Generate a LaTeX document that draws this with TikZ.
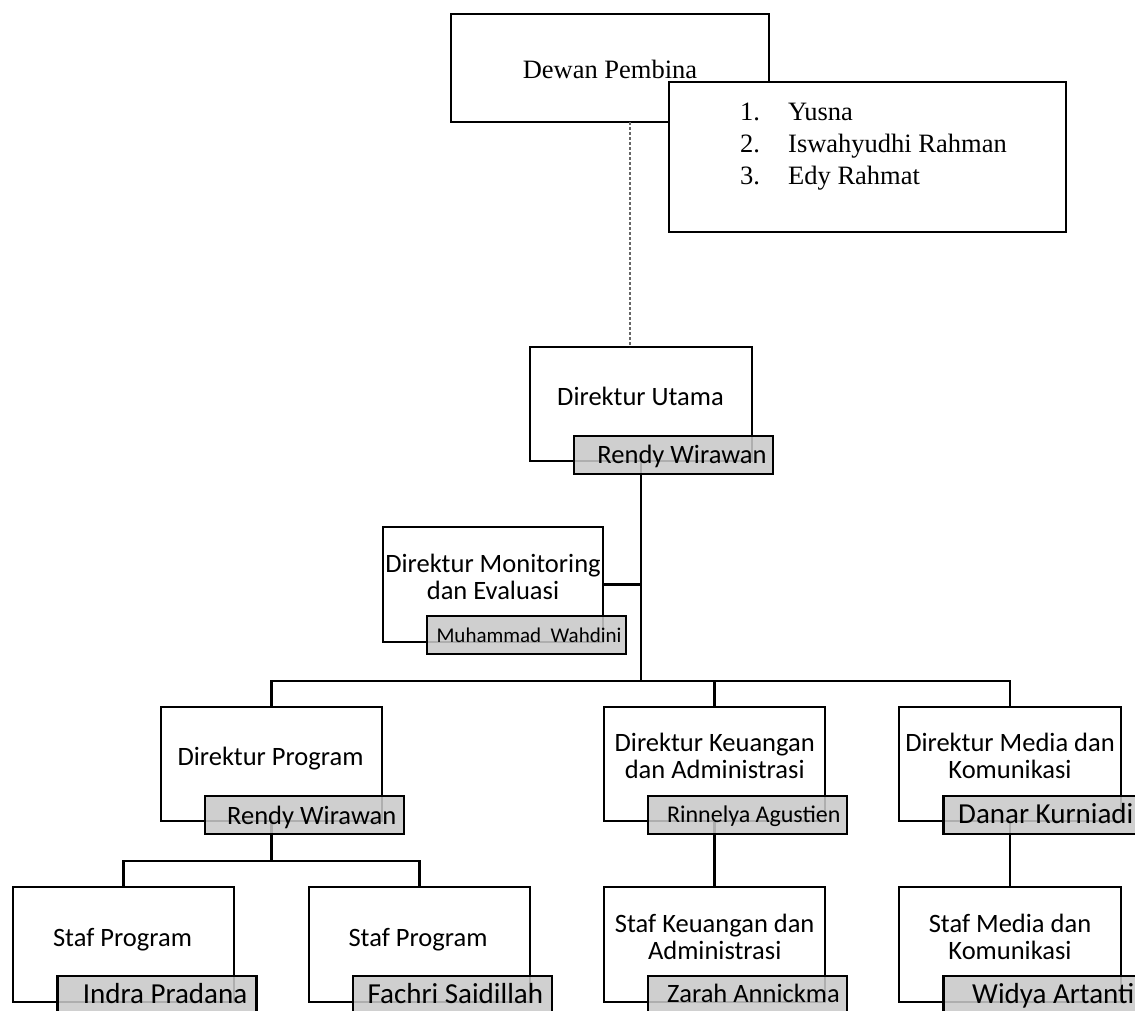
\documentclass[tikz,border=0pt]{standalone}
\usepackage{fontspec}
\setmainfont{Liberation Serif}
\newfontfamily\calfont{Carlito}
\begin{document}
\begin{tikzpicture}[x=1pt,y=-1pt,
  wbox/.style={draw=black, line width=2.6pt, fill=white, rectangle, inner sep=0pt, outer sep=0pt, anchor=north west},
  gbox/.style={draw=black, line width=2.6pt, fill=black!21, fill opacity=0.87, draw opacity=1, rectangle, inner sep=0pt, outer sep=0pt, anchor=north west, minimum width=199pt, minimum height=38pt},
  conn/.style={draw=black, line width=2.6pt},
  dash line/.style={draw=black!60, line width=1.4pt, dash pattern=on 3pt off 2pt},
  serif/.style={font=\fontsize{26.5}{30}\selectfont, inner sep=0pt, anchor=base},
  lbl/.style={font=\calfont\fontsize{26.5}{30}\selectfont, inner sep=0pt, anchor=base},
  lblS/.style={font=\calfont\fontsize{21}{24}\selectfont, inner sep=0pt, anchor=base},
  lblM/.style={font=\calfont\fontsize{24}{28}\selectfont, inner sep=0pt, anchor=base},
  lblL/.style={font=\calfont\fontsize{29}{33}\selectfont, inner sep=0pt, anchor=base}]
\useasboundingbox (0,0) rectangle (1135,1010);
\clip (0,0) rectangle (1135,1010);

% Dewan Pembina
\node[wbox, minimum width=318pt, minimum height=108pt] (dp) at (451,14) {};
\node[serif] (dpT) at (610,78) {Dewan Pembina};
\coordinate (dl) at (630,0);
\node[wbox, minimum width=222pt, minimum height=114pt] (du) at (530,347) {};
\draw[dash line] (dp.south -| dl) -- (du.north -| dl);
\node[wbox, minimum width=397pt, minimum height=150pt] (lst) at (669,82) {};
\node[serif, anchor=base west] (l1n) at (740,120) {1.};
\node[serif, anchor=base west] (l1) at (788,120) {Yusna};
\node[serif, anchor=base west] (l2n) at (740,152) {2.};
\node[serif, anchor=base west] (l2) at (788,152) {Iswahyudhi Rahman};
\node[serif, anchor=base west] (l3n) at (740,184) {3.};
\node[serif, anchor=base west] (l3) at (788,184) {Edy Rahmat};

% white boxes
\node[wbox, minimum width=220pt, minimum height=115pt] (mon) at (383,527) {};
\node[wbox, minimum width=221pt, minimum height=114pt] (prog) at (161,707) {};
\node[wbox, minimum width=221pt, minimum height=114pt] (keu) at (604,707) {};
\node[wbox, minimum width=222pt, minimum height=114pt] (med) at (899,707) {};
\node[wbox, minimum width=221pt, minimum height=115pt] (sp1) at (13,887) {};
\node[wbox, minimum width=221pt, minimum height=115pt] (sp2) at (309,887) {};
\node[wbox, minimum width=221pt, minimum height=115pt] (sk) at (604,887) {};
\node[wbox, minimum width=222pt, minimum height=115pt] (sm) at (899,887) {};

% connectors
\coordinate (busA) at (0,681);
\coordinate (busB) at (0,861);
\draw[conn] (du.south) -- (du.south |- busA);
\draw[conn] (mon.east) -- (mon.east -| du.south);
\draw[conn] (prog.north) -- (prog.north |- busA) -- (med.north |- busA) -- (med.north);
\draw[conn] (keu.north) -- (keu.north |- busA);
\draw[conn] (prog.south) -- (prog.south |- busB);
\draw[conn] (sp1.north) -- (sp1.north |- busB) -- (sp2.north |- busB) -- (sp2.north);
\draw[conn] (keu.south) -- (sk.north);
\draw[conn] (med.south) -- (sm.north);

% gray name boxes
\node[gbox] (duN) at (574,436) {};
\node[gbox] (monN) at (427,616) {};
\node[gbox] (progN) at (205,796) {};
\node[gbox] (keuN) at (648,796) {};
\node[gbox] (medN) at (943.5,796) {};
\node[gbox] (sp1N) at (57.5,976) {};
\node[gbox] (sp2N) at (353,976) {};
\node[gbox] (skN) at (648,976) {};
\node[gbox] (smN) at (943.5,976) {};

% texts
\node[lbl] (duT) at (640.5,405) {Direktur Utama};
\node[lbl] (duNT) at (682,463) {Rendy Wirawan};
\node[lbl] (monT1) at (493,572) {Direktur Monitoring};
\node[lbl] (monT2) at (493,599) {dan Evaluasi};
\node[lblS] (monNT) at (529,642) {Muhammad\ \ Wahdini};
\node[lbl] (progT) at (270.5,765) {Direktur Program};
\node[lbl] (progNT) at (311.7,824) {Rendy Wirawan};
\node[lbl] (keuT1) at (714.7,751) {Direktur Keuangan};
\node[lbl] (keuT2) at (714.7,778) {dan Administrasi};
\node[lblM] (keuNT) at (753.8,822) {Rinnelya Agustien};
\node[lbl] (medT1) at (1010,751) {Direktur Media dan};
\node[lbl] (medT2) at (1010,778) {Komunikasi};
\node[lblL, anchor=base west] (medNT) at (958,823) {Danar Kurniadi};
\node[lbl] (sp1T) at (122.5,946) {Staf Program};
\node[lbl] (sp2T) at (418,946) {Staf Program};
\node[lblL] (sp1NT) at (165,1003) {Indra Pradana};
\node[lblL] (sp2NT) at (455.4,1003) {Fachri Saidillah};
\node[lbl] (skT1) at (714.7,932) {Staf Keuangan dan};
\node[lbl] (skT2) at (714.7,959) {Administrasi};
\node[lbl] (skNT) at (753.4,1002) {Zarah Annickma};
\node[lbl] (smT1) at (1010,932) {Staf Media dan};
\node[lbl] (smT2) at (1010,959) {Komunikasi};
\node[lblL, anchor=base west] (smNT) at (972,1003) {Widya Artanti};
\end{tikzpicture}
\end{document}
